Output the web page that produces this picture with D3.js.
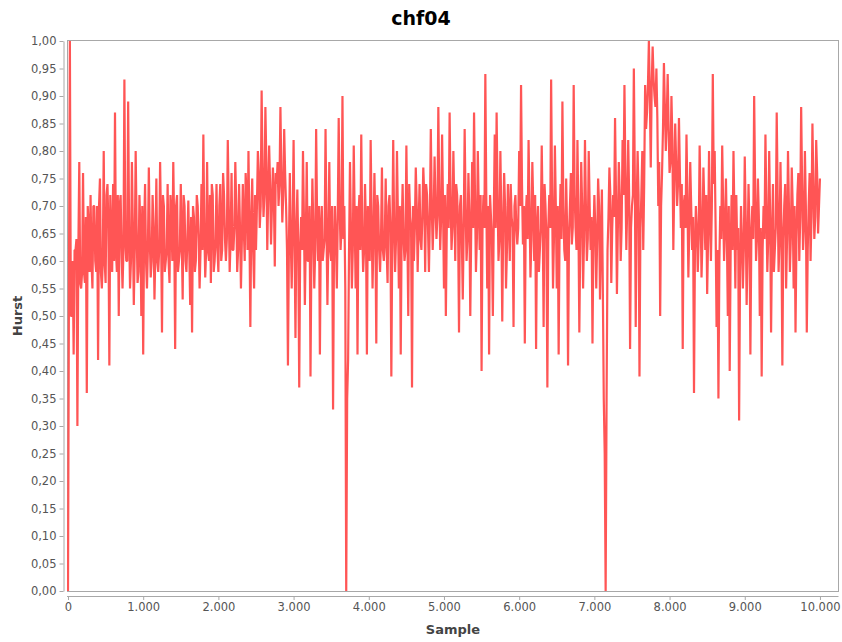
<!DOCTYPE html>
<html><head><meta charset="utf-8">
<script src="https://cdn.jsdelivr.net/npm/d3@7"></script>
<style>body{margin:0;background:#fff}svg{display:block}</style>
</head><body>
<svg id="c" width="842" height="642"></svg>
<script>
const chartTitle = "chf04";
const xLabel = "Sample";
const yLabel = "Hurst";
const sampleStep = 25;
const xTicks = [0,1000,2000,3000,4000,5000,6000,7000,8000,9000,10000];
const yTicks = d3.range(0, 21).map(i => i * 0.05);
// Hurst extremes read every 25 samples (4 per 100-sample bin)
const hurst = [
 0.00,1.00,0.50,0.43, 0.62,0.30,0.78,0.55, 0.76,0.56,0.36,0.66, 0.72,0.55,0.70,0.58, 0.42,0.75,0.55,0.80,
 0.56,0.74,0.41,0.64, 0.74,0.87,0.58,0.50, 0.72,0.55,0.93,0.60, 0.89,0.55,0.78,0.52, 0.80,0.56,0.72,0.50,
 0.43,0.74,0.55,0.77, 0.57,0.72,0.53,0.75, 0.58,0.78,0.47,0.70, 0.60,0.74,0.56,0.68, 0.78,0.44,0.72,0.60,
 0.74,0.53,0.70,0.58, 0.71,0.52,0.47,0.68, 0.60,0.70,0.55,0.74, 0.83,0.57,0.78,0.60, 0.56,0.72,0.60,0.74,
 0.58,0.74,0.62,0.72, 0.60,0.82,0.58,0.76, 0.62,0.78,0.58,0.74, 0.55,0.74,0.60,0.72, 0.80,0.48,0.75,0.55,
 0.62,0.80,0.66,0.91, 0.68,0.88,0.62,0.81, 0.63,0.77,0.59,0.74, 0.70,0.88,0.67,0.84, 0.70,0.41,0.76,0.55,
 0.82,0.46,0.73,0.37, 0.68,0.80,0.52,0.78, 0.60,0.39,0.75,0.55, 0.84,0.60,0.43,0.70, 0.62,0.84,0.52,0.78,
 0.60,0.33,0.70,0.55, 0.86,0.62,0.90,0.70, 0.00,0.42,0.78,0.55, 0.81,0.55,0.43,0.72, 0.83,0.58,0.74,0.43,
 0.66,0.82,0.55,0.76, 0.45,0.70,0.58,0.77, 0.60,0.75,0.56,0.72, 0.39,0.82,0.58,0.80, 0.55,0.43,0.74,0.60,
 0.81,0.50,0.68,0.37, 0.60,0.77,0.58,0.74, 0.62,0.77,0.58,0.72, 0.58,0.84,0.62,0.79, 0.64,0.88,0.62,0.83,
 0.55,0.50,0.74,0.87, 0.62,0.80,0.60,0.72, 0.47,0.72,0.53,0.84, 0.60,0.76,0.50,0.78, 0.87,0.58,0.80,0.62,
 0.40,0.72,0.94,0.55, 0.43,0.68,0.50,0.83, 0.87,0.60,0.80,0.49, 0.76,0.55,0.74,0.60, 0.68,0.48,0.72,0.63,
 0.80,0.92,0.63,0.45, 0.72,0.82,0.57,0.78, 0.60,0.44,0.70,0.62, 0.81,0.48,0.70,0.37, 0.72,0.93,0.55,0.81,
 0.55,0.43,0.74,0.89, 0.62,0.75,0.41,0.70, 0.63,0.92,0.66,0.82, 0.47,0.78,0.55,0.82, 0.60,0.80,0.62,0.45,
 0.72,0.55,0.75,0.53, 0.73,0.35,0.00,0.62, 0.77,0.56,0.72,0.86, 0.54,0.78,0.60,0.82, 0.92,0.62,0.82,0.44,
 0.70,0.95,0.48,0.80, 0.39,0.72,0.62,0.92, 0.87,1.00,0.77,0.99, 0.90,0.95,0.70,0.50, 0.76,0.96,0.80,0.94,
 0.76,0.90,0.62,0.85, 0.70,0.86,0.66,0.44, 0.72,0.83,0.57,0.78, 0.62,0.36,0.70,0.58, 0.81,0.57,0.77,0.62,
 0.54,0.80,0.60,0.94, 0.80,0.48,0.35,0.70, 0.81,0.60,0.75,0.50, 0.40,0.72,0.80,0.55, 0.62,0.31,0.70,0.55,
 0.79,0.52,0.74,0.43, 0.70,0.90,0.60,0.75, 0.50,0.39,0.70,0.83, 0.58,0.80,0.47,0.74, 0.62,0.87,0.58,0.78,
 0.41,0.70,0.55,0.80, 0.58,0.77,0.55,0.47, 0.72,0.60,0.88,0.62, 0.80,0.47,0.70,0.60, 0.85,0.64,0.82,0.65,
 0.75
];
// Hurst values of the dense core band, read half-way between the samples above
const hurstMid = [
 0.55,0.50,0.60,0.62, 0.64,0.62,0.56,0.58, 0.58,0.68,0.70,0.58, 0.60,0.70,0.60,0.70, 0.70,0.58,0.60,0.60,
 0.72,0.66,0.72,0.58, 0.60,0.62,0.72,0.70, 0.62,0.62,0.64,0.60, 0.66,0.60,0.66,0.62, 0.66,0.58,0.66,0.70,
 0.66,0.60,0.62,0.64, 0.60,0.66,0.62,0.60, 0.62,0.66,0.72,0.58, 0.62,0.60,0.72,0.60, 0.66,0.70,0.58,0.62,
 0.64,0.72,0.60,0.64, 0.62,0.68,0.70,0.58, 0.72,0.64,0.62,0.62, 0.66,0.62,0.62,0.72, 0.74,0.58,0.64,0.62,
 0.70,0.60,0.76,0.64, 0.64,0.70,0.64,0.62, 0.66,0.70,0.62,0.66, 0.64,0.66,0.76,0.62, 0.66,0.68,0.62,0.72,
 0.70,0.76,0.70,0.76, 0.72,0.78,0.72,0.74, 0.70,0.72,0.76,0.78, 0.74,0.76,0.72,0.76, 0.62,0.62,0.64,0.66,
 0.64,0.66,0.62,0.62, 0.62,0.68,0.64,0.60, 0.70,0.62,0.66,0.62, 0.68,0.70,0.66,0.60, 0.64,0.66,0.64,0.62,
 0.70,0.62,0.64,0.68, 0.70,0.66,0.64,0.55, 0.35,0.62,0.66,0.62, 0.68,0.70,0.68,0.62, 0.66,0.62,0.66,0.70,
 0.60,0.68,0.64,0.66, 0.72,0.62,0.64,0.62, 0.64,0.62,0.70,0.66, 0.64,0.66,0.64,0.68, 0.70,0.66,0.64,0.62,
 0.66,0.74,0.66,0.70, 0.66,0.70,0.66,0.64, 0.68,0.72,0.74,0.66, 0.68,0.70,0.68,0.70, 0.68,0.72,0.68,0.70,
 0.72,0.66,0.66,0.72, 0.66,0.70,0.74,0.66, 0.70,0.64,0.66,0.70, 0.64,0.68,0.66,0.66, 0.72,0.64,0.70,0.72,
 0.66,0.66,0.72,0.70, 0.72,0.64,0.68,0.66, 0.72,0.64,0.68,0.66, 0.70,0.62,0.68,0.74, 0.66,0.70,0.66,0.66,
 0.70,0.74,0.70,0.68, 0.64,0.70,0.64,0.70, 0.72,0.66,0.58,0.66, 0.68,0.74,0.64,0.66, 0.66,0.72,0.64,0.70,
 0.70,0.66,0.64,0.70, 0.60,0.66,0.64,0.76, 0.66,0.72,0.62,0.68, 0.64,0.70,0.64,0.70, 0.64,0.70,0.68,0.64,
 0.66,0.64,0.70,0.64, 0.55,0.25,0.35,0.68, 0.72,0.66,0.68,0.72, 0.66,0.72,0.66,0.72, 0.76,0.70,0.72,0.66,
 0.72,0.76,0.70,0.72, 0.66,0.80,0.74,0.84, 0.92,0.90,0.92,0.93, 0.88,0.86,0.78,0.70, 0.84,0.88,0.86,0.84,
 0.78,0.82,0.74,0.78, 0.74,0.76,0.74,0.70, 0.66,0.72,0.66,0.70, 0.68,0.62,0.66,0.64, 0.70,0.64,0.70,0.72,
 0.64,0.68,0.70,0.74, 0.66,0.62,0.60,0.64, 0.70,0.66,0.64,0.70, 0.62,0.62,0.68,0.72, 0.66,0.58,0.64,0.62,
 0.68,0.62,0.66,0.64, 0.64,0.74,0.64,0.68, 0.66,0.62,0.64,0.70, 0.64,0.68,0.64,0.58, 0.66,0.72,0.64,0.66,
 0.64,0.74,0.64,0.70, 0.64,0.70,0.70,0.64, 0.76,0.68,0.74,0.66, 0.70,0.62,0.76,0.68, 0.74,0.68,0.76,0.70
];

// table of [sample, value] built from the two arrays
const series = [];
hurst.forEach((v, i) => {
  series.push([i * sampleStep, v]);
  if (i < hurstMid.length) series.push([i * sampleStep + sampleStep / 2, hurstMid[i]]);
});

const svg = d3.select("#c");
const L = 68, R = 838, T = 41, B = 591;
const x = d3.scaleLinear().domain([0, 10240]).range([L, R]);
const y = d3.scaleLinear().domain([0, 1]).range([B, T]);
const font = "'DejaVu Sans', Verdana, sans-serif";

svg.append("rect").attr("x", 0).attr("y", 0).attr("width", 842).attr("height", 642).attr("fill", "#fff");

svg.append("text").attr("x", 421).attr("y", 25).attr("text-anchor", "middle")
  .attr("font-family", font).attr("font-weight", "bold").attr("font-size", 19)
  .attr("fill", "#000").text(chartTitle);

svg.append("clipPath").attr("id", "clip").append("rect")
  .attr("x", L - 1).attr("y", T).attr("width", R - L + 1).attr("height", B - T);

// plot outline
svg.append("rect").attr("x", L - 0.5).attr("y", T - 0.5).attr("width", R - L + 1).attr("height", B - T + 1)
  .attr("fill", "none").attr("stroke", "#a8a8a8").attr("stroke-width", 1);

const line = d3.line().x(d => x(d[0])).y(d => y(d[1]));
svg.append("path").datum(series).attr("clip-path", "url(#clip)")
  .attr("d", line).attr("fill", "none").attr("stroke", "#ff5555")
  .attr("stroke-width", 2.2).attr("stroke-linejoin", "bevel");

const fmtX = d => d3.format(",")(d).replace(/,/g, ".");
const fmtY = d => d3.format(".2f")(d).replace(".", ",");
const xAxis = d3.axisBottom(x).tickValues(xTicks).tickFormat(fmtX).tickSize(4).tickSizeOuter(0).tickPadding(3);
const yAxis = d3.axisLeft(y).tickValues(yTicks).tickFormat(fmtY).tickSize(4).tickSizeOuter(0).tickPadding(3);

const gx = svg.append("g").attr("transform", `translate(0,${B + 5})`).call(xAxis);
const gy = svg.append("g").attr("transform", `translate(${L - 4.5},0)`).call(yAxis);
gx.select(".domain").attr("d", `M${L - 1},0.5H${R + 0.5}`);
[gx, gy].forEach(g => {
  g.select(".domain").attr("stroke", "#a8a8a8");
  g.selectAll(".tick line").attr("stroke", "#a8a8a8");
  g.selectAll(".tick text").attr("fill", "#555").attr("font-family", font).attr("font-size", 11.5);
});

svg.append("text").attr("x", (L + R) / 2).attr("y", 634).attr("text-anchor", "middle")
  .attr("font-family", font).attr("font-weight", "bold").attr("font-size", 13)
  .attr("fill", "#444").text(xLabel);
svg.append("text").attr("transform", `translate(22,${(T + B) / 2}) rotate(-90)`).attr("text-anchor", "middle")
  .attr("font-family", font).attr("font-weight", "bold").attr("font-size", 13)
  .attr("fill", "#444").text(yLabel);
</script>
</body></html>
